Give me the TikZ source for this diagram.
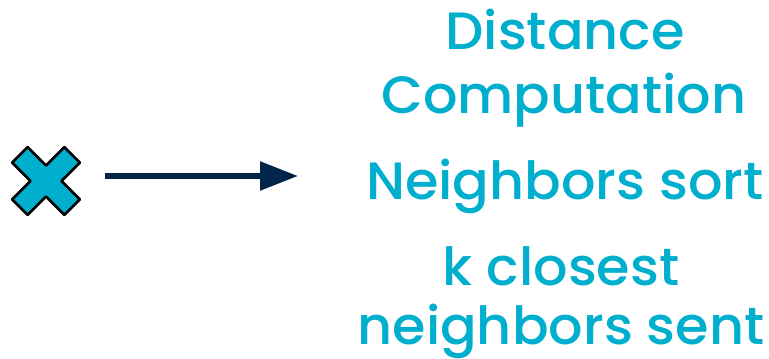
\documentclass[tikz,border=0pt]{standalone}
\usepackage{fontspec}
\setmainfont{Poppins Medium}[FakeStretch=1.03]
\usetikzlibrary{arrows.meta}
\definecolor{cyanx}{RGB}{0,174,206}
\definecolor{navyx}{RGB}{0,37,72}
\tikzset{
  lbl/.style={text=cyanx, font=\fontsize{52.5}{60}\selectfont, anchor=base, inner sep=0pt, text depth=10pt},
  crossshape/.style={fill=cyanx, draw=black, line width=2.6pt, line join=round},
  flow/.style={draw=navyx, line width=5.5pt, -{Triangle[length=38pt,width=28pt]}}
}
\begin{document}
\begin{tikzpicture}[x=1pt,y=-1pt]
\useasboundingbox (0,0) rectangle (769,359);
% cross
\coordinate (cross) at (46,181);
\path[crossshape, shift={(cross)}, rotate=45]
  (-11,-37) -- (11,-37) -- (11,-11) -- (37,-11) -- (37,11) -- (11,11) --
  (11,37) -- (-11,37) -- (-11,11) -- (-37,11) -- (-37,-11) -- (-11,-11) -- cycle;
\coordinate (src) at (105,176);
\coordinate (dst) at (298,176);
\draw[flow] (src) -- (dst);
% labels
\node[lbl] (dist1) at (565,49) {Distance};
\node[lbl] (dist2) at (564,113) {Computation};
\node[lbl] (sort) at (565,199) {Neighbors sort};
\node[lbl] (knn1) at (561,285) {k closest};
\node[lbl] (knn2) at (561,344) {neighbors sent};
\end{tikzpicture}
\end{document}
